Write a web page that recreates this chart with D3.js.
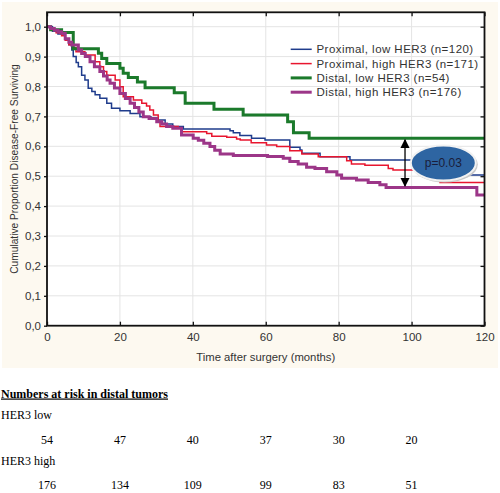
<!DOCTYPE html>
<html><head><meta charset="utf-8">
<script src="https://cdn.jsdelivr.net/npm/d3@7/dist/d3.min.js"></script>
<style>body{margin:0;background:#fff}svg{display:block}</style>
</head><body><svg id="c" width="500" height="493"></svg>
<script>
const xTicks = [0,20,40,60,80,100,120];
const yTicks = [0,0.1,0.2,0.3,0.4,0.5,0.6,0.7,0.8,0.9,1.0];
const seriesNames = ["Proximal, low HER3 (n=120)","Proximal, high HER3 (n=171)","Distal, low HER3 (n=54)","Distal, high HER3 (n=176)"];
const proximalLow = [[0,1],[1.5,0.985],[3,0.976],[5,0.96],[6,0.94],[6.8,0.922],[7.2,0.9],[8,0.88],[8.6,0.866],[9.5,0.838],[10.4,0.822],[11.3,0.794],[12.3,0.783],[13.2,0.772],[14.5,0.761],[16.4,0.744],[17.7,0.727],[20,0.719],[22.8,0.71],[25.5,0.699],[28.5,0.694],[30.5,0.688],[32.4,0.675],[34.5,0.666],[37.4,0.658],[50.2,0.652],[51.1,0.645],[52.9,0.636],[56.1,0.627],[59.8,0.621],[66.6,0.597],[69.4,0.588],[69.9,0.577],[74.9,0.565],[83.1,0.554],[108.2,0.504],[120,0.504]];
const proximalHigh = [[0,1],[1,0.99],[2.5,0.98],[4,0.97],[5,0.955],[6,0.94],[7,0.93],[7.95,0.916],[10.4,0.905],[13.2,0.883],[14.5,0.866],[15.5,0.85],[16.4,0.838],[18.7,0.822],[20,0.799],[20.9,0.766],[23.7,0.755],[26,0.744],[27.3,0.735],[28.2,0.721],[29.2,0.705],[30.5,0.682],[31,0.666],[36,0.66],[37,0.649],[43.8,0.643],[45.2,0.634],[49.3,0.63],[52,0.624],[53,0.621],[56,0.612],[60.2,0.604],[63,0.599],[66.6,0.585],[69.9,0.574],[74.4,0.565],[82.2,0.552],[83.5,0.541],[87.2,0.537],[93.6,0.526],[94.9,0.521],[107.8,0.479],[120,0.479]];
const distalLow = [[0,1],[1,0.99],[4,0.981],[7.2,0.926],[14.1,0.911],[15,0.894],[16.4,0.877],[20,0.861],[20.9,0.844],[22.3,0.83],[24.8,0.815],[26.9,0.796],[34.9,0.779],[37.9,0.744],[45.8,0.724],[53.8,0.705],[66,0.682],[67.6,0.645],[71.9,0.627],[120,0.627]];
const distalHigh = [[0,1],[1,0.994],[2,0.988],[3,0.983],[4,0.978],[5,0.96],[6,0.948],[6.8,0.939],[8.6,0.922],[9.5,0.91],[10.5,0.9],[11.8,0.883],[13,0.866],[14.5,0.85],[15.5,0.835],[16.5,0.822],[17.3,0.811],[18.5,0.795],[20,0.777],[21.5,0.76],[22.8,0.744],[24,0.73],[25.2,0.715],[26.4,0.699],[28,0.693],[30.1,0.682],[31.5,0.675],[32.8,0.666],[34.5,0.66],[36.9,0.638],[40.1,0.627],[41.5,0.62],[43,0.61],[44.7,0.599],[46,0.587],[47.5,0.574],[51.1,0.569],[60.5,0.566],[64.8,0.56],[66.6,0.549],[68.9,0.541],[71.2,0.53],[73.5,0.526],[76.7,0.515],[79.5,0.504],[80.8,0.493],[84.9,0.487],[88.1,0.479],[91.3,0.471],[93,0.462],[117.9,0.437],[120,0.437]];
const riskLabels = ["HER3 low","HER3 high"];
const riskLow = [54,47,40,37,30,20];
const riskHigh = [176,134,109,99,83,51];
const riskTimes = [0,20,40,60,80,100];
const pText = "p=0.03";

const colors = ["#1f3c8c","#e8152e","#1b7a2b","#9c3688"];
const widths = [1.5,1.5,3,3];
const series = [proximalLow, proximalHigh, distalLow, distalHigh];

const svg = d3.select("#c");
const L=47, R=484.5, T=12.3, B=325.7;
const x = d3.scaleLinear().domain([0,120]).range([L,R]);
const y = d3.scaleLinear().domain([0,1]).range([B,T+14.4]);
const sans = "'Liberation Sans', Arial, sans-serif";
const serif = "'Liberation Serif', 'Times New Roman', serif";

svg.append("rect").attr("x",2).attr("y",2).attr("width",496).attr("height",366).attr("fill","#fdf9f0");
svg.append("rect").attr("x",L).attr("y",T).attr("width",R-L).attr("height",B-T).attr("fill","#fff");

// grid
const g = svg.append("g");
g.selectAll("line.gx").data(xTicks.slice(1,-1)).join("line")
  .attr("x1",d=>x(d)).attr("x2",d=>x(d)).attr("y1",T).attr("y2",B)
  .attr("stroke","#e4e4e4").attr("stroke-width",1);
g.selectAll("line.gy").data(yTicks.slice(1)).join("line")
  .attr("x1",L).attr("x2",R).attr("y1",d=>y(d)).attr("y2",d=>y(d))
  .attr("stroke","#e4e4e4").attr("stroke-width",1);

// curves
const line = d3.line().x(d=>x(d[0])).y(d=>y(d[1])).curve(d3.curveStepAfter);
series.forEach((s,i)=>{
  svg.append("path").datum(s).attr("d",line).attr("fill","none")
    .attr("stroke",colors[i]).attr("stroke-width",widths[i]);
});

// axes
const fmt = d=>d3.format(".1f")(d).replace(".",",");
const axB = svg.append("g").attr("transform",`translate(0,${B})`)
  .call(d3.axisBottom(x).tickValues(xTicks).tickSize(-4).tickPadding(7));
const axL = svg.append("g").attr("transform",`translate(${L},0)`)
  .call(d3.axisLeft(y).tickValues(yTicks).tickFormat(fmt).tickSize(3).tickPadding(3));
const axT = svg.append("g").attr("transform",`translate(0,${T})`)
  .call(d3.axisTop(x).tickValues(xTicks).tickSize(-4).tickFormat(""));
const axR = svg.append("g").attr("transform",`translate(${R},0)`)
  .call(d3.axisRight(y).tickValues(yTicks).tickSize(-4).tickFormat(""));
[axB,axL,axT,axR].forEach(a=>{
  a.select(".domain").remove();
  a.selectAll(".tick line").attr("stroke","#111").attr("stroke-width",1.3);
  a.selectAll("text").attr("font-family",sans).attr("font-size",11.5).attr("fill","#333");
});
svg.append("rect").attr("x",L).attr("y",T).attr("width",R-L).attr("height",B-T)
  .attr("fill","none").attr("stroke","#111").attr("stroke-width",1.8);

// axis titles
svg.append("text").attr("x",(L+R)/2).attr("y",361).attr("text-anchor","middle")
  .attr("font-family",sans).attr("font-size",11.3).attr("fill","#333").text("Time after surgery (months)");
svg.append("text").attr("transform",`translate(17.5,${(T+B)/2}) rotate(-90)`).attr("text-anchor","middle")
  .attr("font-family",sans).attr("font-size",10.2).attr("fill","#333").text("Cumulative Proportion Disease-Free Surviving");

// legend
const lg = svg.append("g");
seriesNames.forEach((n,i)=>{
  const yy = 49.3 + i*14.3;
  lg.append("line").attr("x1",290.7).attr("x2",311.7).attr("y1",yy).attr("y2",yy)
    .attr("stroke",colors[i]).attr("stroke-width",widths[i]);
  lg.append("text").attr("x",316.5).attr("y",yy+4).attr("font-family",sans).attr("font-size",11.5)
    .attr("fill","#333").attr("letter-spacing",0.45).text(n);
});

// arrow
const defs = svg.append("defs");
defs.append("marker").attr("id","ah").attr("viewBox","0 0 10 10").attr("refX",9).attr("refY",5)
  .attr("markerWidth",7).attr("markerHeight",7).attr("orient","auto-start-reverse")
  .append("path").attr("d","M0,0 L10,5 L0,10 z").attr("fill","#000");
const ax0 = x(98.2);
svg.append("line").attr("x1",ax0).attr("x2",ax0).attr("y1",y(0.627)+1.5).attr("y2",y(0.462)-1.5)
  .attr("stroke","#000").attr("stroke-width",1.3)
  .attr("marker-start","url(#ah)").attr("marker-end","url(#ah)");

// p-value ellipse
const ex = x(108.7), ey = y(0.544);
svg.append("ellipse").attr("cx",ex+1.5).attr("cy",ey+1.5).attr("rx",33).attr("ry",18).attr("fill","#c9c9c9");
svg.append("ellipse").attr("cx",ex).attr("cy",ey).attr("rx",32.5).attr("ry",17.5)
  .attr("fill","#2e65a2").attr("stroke","#f2f2f2").attr("stroke-width",2);
svg.append("text").attr("x",ex).attr("y",ey+4).attr("text-anchor","middle").attr("font-family",sans)
  .attr("font-size",12).attr("fill","#1a1d3a").text(pText);

// numbers at risk
svg.append("text").attr("x",1).attr("y",397.5).attr("font-family",serif).attr("font-size",12)
  .attr("font-weight","bold").attr("fill","#000").attr("text-decoration","underline")
  .text("Numbers at risk in distal tumors");
const rows = [riskLow, riskHigh];
riskLabels.forEach((lab,i)=>{
  const y0 = 419 + i*45.5;
  svg.append("text").attr("x",1).attr("y",y0).attr("font-family",serif).attr("font-size",12).attr("fill","#000").text(lab);
  svg.append("g").selectAll("text").data(rows[i]).join("text")
    .attr("x",(d,j)=>x(riskTimes[j])).attr("y",y0+24.5).attr("text-anchor","middle")
    .attr("font-family",serif).attr("font-size",12).attr("fill","#000").text(d=>d);
});
</script></body></html>
